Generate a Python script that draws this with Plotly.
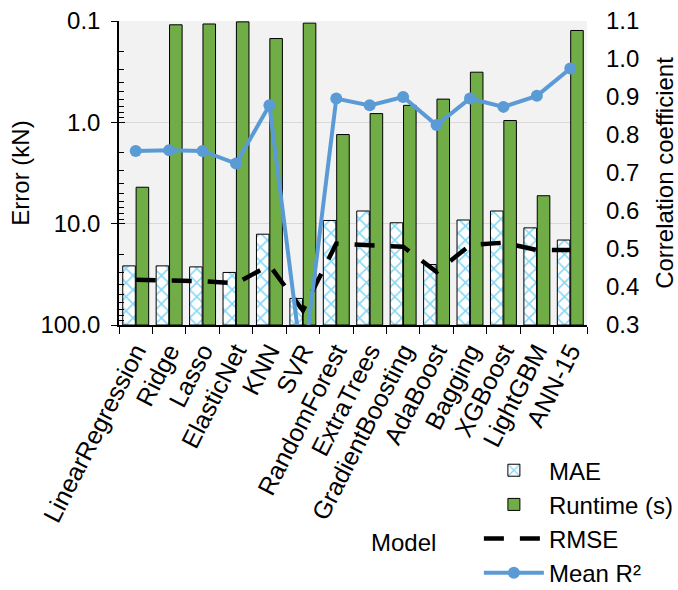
import plotly.graph_objects as go
import numpy as np

models = ["LinearRegression", "Ridge", "Lasso", "ElasticNet", "KNN", "SVR",
          "RandomForest", "ExtraTrees", "GradientBoosting", "AdaBoost",
          "Bagging", "XGBoost", "LightGBM", "ANN-15"]
mae = [26.1, 26.1, 26.7, 30.3, 12.7, 54.7, 9.3, 7.5, 9.8, 25.3, 9.2, 7.5, 11.0, 14.5]
runtime = [4.37, 0.109, 0.107, 0.102, 0.149, 0.105, 1.32, 0.82, 0.68, 0.59, 0.32, 0.96, 5.3, 0.124]
rmse = [35.8, 36.0, 36.9, 38.9, 25.7, 72.0, 15.7, 16.3, 16.9, 29.9, 16.3, 15.4, 18.2, 18.2]
mean_r2 = [0.758, 0.760, 0.758, 0.725, 0.878, 0.18, 0.896, 0.878, 0.900, 0.826, 0.896, 0.874, 0.903, 0.975]

left_ticks = [0.1, 1, 10, 100]
left_ticktext = ["0.1", "1.0", "10.0", "100.0"]
right_ticks = [0.3, 0.4, 0.5, 0.6, 0.7, 0.8, 0.9, 1.0, 1.1]

BASE = 100.0  # bars grow from the bottom of the reversed log axis
FONT = "Liberation Sans, Arial, sans-serif"
FS = 24

fig = go.Figure()
fig.add_trace(go.Bar(
    name="MAE", x=models, y=np.array(mae) - BASE, base=BASE,
    marker=dict(color="white", line=dict(color="black", width=1),
                pattern=dict(shape="x", fgcolor="#10b0ee", bgcolor="white",
                             size=10, solidity=0.3)),
    yaxis="y"))
fig.add_trace(go.Bar(
    name="Runtime (s)", x=models, y=np.array(runtime) - BASE, base=BASE,
    marker=dict(color="#70ad47", line=dict(color="black", width=1)),
    yaxis="y"))
fig.add_trace(go.Scatter(
    name="RMSE", x=models, y=rmse, mode="lines",
    line=dict(color="black", width=4.5, dash="20px,16px"), yaxis="y"))
fig.add_trace(go.Scatter(
    name="Mean R²", x=models, y=mean_r2, mode="lines+markers",
    line=dict(color="#5b9bd5", width=4), marker=dict(size=12, color="#5b9bd5"),
    yaxis="y2", cliponaxis=True))
# invisible helper so the overlay axis (inner half of major ticks) is drawn
fig.add_trace(go.Scatter(x=[models[0]], y=[1], mode="markers",
                         marker=dict(opacity=0), showlegend=False,
                         hoverinfo="skip", yaxis="y3"))

minor_vals = [m * 10.0 ** e for e in (-1, 0, 1) for m in range(2, 10)]

fig.update_layout(
    width=678, height=590,
    margin=dict(l=119, r=91, t=21, b=265, autoexpand=False),
    paper_bgcolor="white", plot_bgcolor="#f2f2f2",
    font=dict(family=FONT, size=FS, color="black"),
    barmode="group", bargap=0.2, bargroupgap=0.06,
    showlegend=True,
    legend=dict(x=0.769, y=-0.405, xanchor="left", yanchor="top",
                font=dict(size=FS), itemwidth=60, tracegroupgap=0,
                bgcolor="rgba(0,0,0,0)"),
    xaxis=dict(type="category", range=[-0.5, len(models) - 0.5],
               showline=True, linecolor="black", linewidth=1.5,
               ticks="outside", ticklen=7, tickcolor="black", tickson="boundaries",
               tickangle=-63, tickfont=dict(size=25), showgrid=False,
               automargin=False),
    yaxis=dict(type="log", range=[2, -1], showline=True, linecolor="black",
               linewidth=1.5, tickvals=left_ticks, ticktext=left_ticktext,
               ticks="outside", ticklen=6, tickcolor="black",
               showgrid=True, gridcolor="#d9d9d9", gridwidth=1,
               minor=dict(tickvals=minor_vals, ticks="inside", ticklen=5,
                          tickcolor="black", showgrid=False),
               title=dict(text="Error (kN)", standoff=4, font=dict(size=FS)),
               ticklabelstandoff=6, zeroline=False, automargin=False),
    yaxis2=dict(overlaying="y", side="right", range=[0.3, 1.1],
                tickvals=right_ticks, tickformat=".1f", showgrid=False,
                showline=False, ticks="", zeroline=False,
                ticklabelstandoff=18, automargin=False,
                title=dict(text="Correlation coefficient", standoff=20,
                           font=dict(size=FS))),
    yaxis3=dict(overlaying="y", side="left", type="log", range=[2, -1],
                tickvals=left_ticks, ticks="inside", ticklen=6,
                tickcolor="black", showticklabels=False, showgrid=False,
                showline=False, zeroline=False, automargin=False),
    annotations=[dict(text="Model", xref="paper", yref="paper",
                      x=0.607, y=-0.717, showarrow=False,
                      font=dict(size=FS), xanchor="center", yanchor="middle")],
)

fig.write_html("out.html")
